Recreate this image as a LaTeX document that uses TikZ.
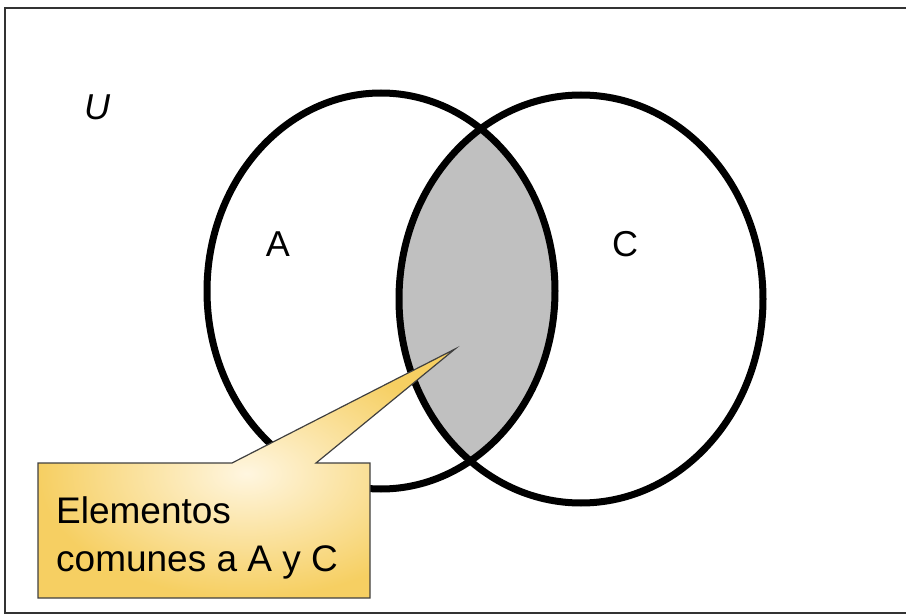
\documentclass[tikz,border=0pt]{standalone}
\usepackage{fontspec}
\setmainfont{Liberation Sans}

\definecolor{oro}{HTML}{F6CF62}
\definecolor{crema}{HTML}{FFF6E0}
\definecolor{lente}{HTML}{C0C0C0}

\begin{document}
\begin{tikzpicture}[x=1pt, y=-1pt,
    conjunto/.style={line width=7pt, black},
    etiqueta/.style={font=\fontsize{36}{48}\selectfont}]
    \useasboundingbox (0,0) rectangle (906,615);
    % universo
    \draw[line width=2.5pt, black!80] (912,8) -- (5,8) -- (5,613) -- (912,613);
    % parte comun de A y C
    \begin{scope}
        \clip (381,291) ellipse (174 and 198);
        \fill[lente] (581,299) ellipse (182 and 204);
    \end{scope}
    \draw[conjunto] (381,291) ellipse (174 and 198);
    \draw[conjunto] (581,299) ellipse (182 and 204);
    \node[etiqueta, font=\fontsize{36}{48}\selectfont\itshape] (U) at (97,107) {U};
    \node[etiqueta] (A) at (278,244) {A};
    \node[etiqueta] (C) at (625,244) {C};
    % nota
    \coordinate (punta) at (455,349);
    \draw[line width=1.2pt, black!75, shading=radial, inner color=crema, outer color=oro]
        (38,463) -- (232,463) -- (punta) -- (316,463) -- (370,463)
        -- (370,598) -- (38,598) -- cycle;
    \node[font=\fontsize{37}{48}\selectfont, anchor=north west, align=left, inner sep=0pt] (nota)
        at (56,496) {Elementos\\comunes a A y C};
\end{tikzpicture}
\end{document}
